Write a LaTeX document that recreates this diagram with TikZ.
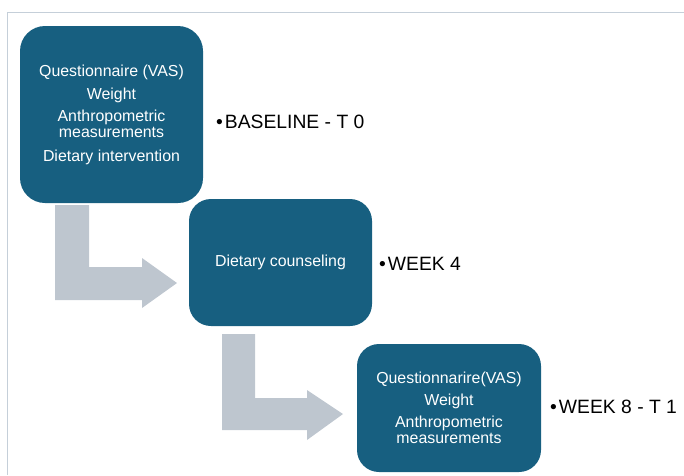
\documentclass[tikz,border=0pt]{standalone}
\usepackage{fontspec}
\setmainfont{Liberation Sans}
\definecolor{boxblue}{HTML}{175F80}
\definecolor{arrowgray}{HTML}{BEC6CF}
\definecolor{framegray}{HTML}{C5CFD9}
\newcommand{\tlbullet}{•\kern2pt}
\begin{document}
\begin{tikzpicture}[x=1pt,y=-1pt,
  stepbox/.style={fill=boxblue, rounded corners=22pt, text=white, align=center,
    font=\fontsize{15.9}{16}\selectfont, inner sep=0pt},
  timelabel/.style={anchor=base west, inner sep=0pt, font=\fontsize{19.3}{22}\selectfont},
  bentarrow/.style={fill=arrowgray}]
\useasboundingbox (0,0) rectangle (684,475);
\draw[framegray, line width=1pt] (7,475) -- (7,12) -- (684,12);
% bent block arrows
\fill[bentarrow] (55,205) -- (89,205) -- (89,267) -- (142,267) -- (142,258) -- (177,283)
  -- (142,308) -- (142,300) -- (55,300) -- cycle;
\fill[bentarrow] (222,334) -- (255,334) -- (255,398) -- (307,398) -- (307,390) -- (343,414)
  -- (307,440) -- (307,430) -- (222,430) -- cycle;
% boxes
\node[stepbox, minimum width=183pt, minimum height=177pt, rounded corners=25pt] (b1) at (111.5,114.5)
  {Questionnaire (VAS)\\[7pt]Weight\\[6pt]Anthropometric\\measurements\\[8pt]Dietary intervention};
\node[stepbox, minimum width=183pt, minimum height=127pt] (b2) at (280.5,262.5)
  {Dietary counseling};
\node[stepbox, minimum width=184pt, minimum height=128pt] (b3) at (449,408)
  {Questionnarire(VAS)\\[6pt]Weight\\[6pt]Anthropometric\\measurements};
% time labels
\node[timelabel] (l1) at (216,128.5) {\tlbullet BASELINE - T 0};
\node[timelabel] (l2) at (379,270) {\tlbullet WEEK 4};
\node[timelabel] (l3) at (550,413.5) {\tlbullet WEEK 8 - T 1};
\end{tikzpicture}
\end{document}
